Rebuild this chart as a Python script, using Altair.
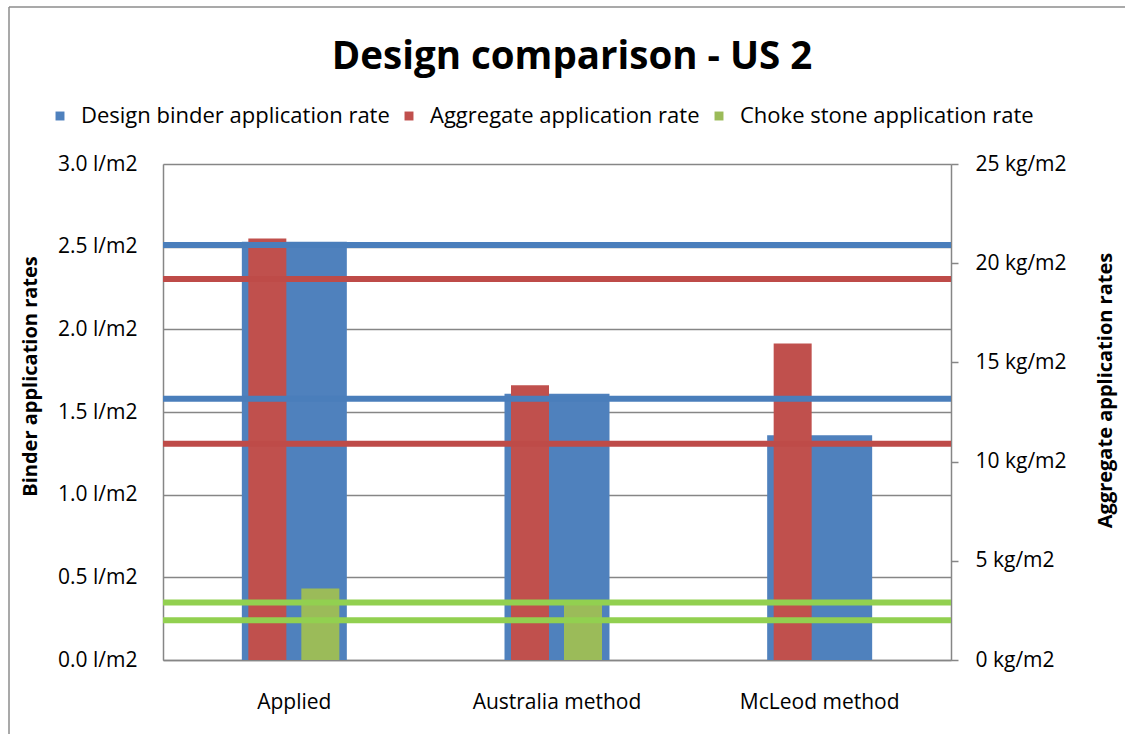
import altair as alt
import pandas as pd

# Categories along the x axis
categories = ["Applied", "Australia method", "McLeod method"]

# Bar series
binder_rate = [2.53, 1.61, 1.36]        # l/m2 (left axis)
aggregate_rate = [21.25, 13.85, 15.95]  # kg/m2 (right axis)
choke_rate = [3.6, 2.8, None]           # kg/m2 (right axis)

# Horizontal design limit lines
binder_limits = [2.51, 1.58]      # l/m2
aggregate_limits = [19.2, 10.9]   # kg/m2
choke_limits = [2.9, 2.0]         # kg/m2

series_names = [
    "Design binder application rate",
    "Aggregate application rate",
    "Choke stone application rate",
]
bar_colors = ["#4F81BD", "#C0504D", "#9BBB59"]

FONT = "Open Sans"
GRAY = "#868686"
LABEL_SIZE = 21


def bar_frame(values, name):
    return pd.DataFrame(
        {"category": categories, "series": name, "value": values}
    ).dropna()


binder_df = bar_frame(binder_rate, series_names[0])
aggregate_df = bar_frame(aggregate_rate, series_names[1])
choke_df = bar_frame(choke_rate, series_names[2])

x_enc = alt.X(
    "category:N",
    sort=categories,
    scale=alt.Scale(domain=categories, paddingInner=0, paddingOuter=0),
    axis=alt.Axis(
        title=None,
        labelAngle=0,
        labelFont=FONT,
        labelFontSize=LABEL_SIZE,
        labelColor="black",
        labelPadding=31,
        ticks=False,
        domainColor=GRAY,
        domainWidth=1.5,
    ),
)

color_enc = alt.Color(
    "series:N",
    scale=alt.Scale(domain=series_names, range=bar_colors),
    legend=alt.Legend(
        title=None,
        orient="none",
        direction="horizontal",
        legendX=-114,
        legendY=-59,
        symbolType="square",
        symbolSize=80,
        symbolStrokeWidth=0,
        labelFont=FONT,
        labelFontSize=22,
        labelColor="black",
        labelLimit=0,
        labelOffset=10,
        columnPadding=8,
    ),
)

left_scale = alt.Scale(domain=[0, 3], nice=False, zero=True)
right_scale = alt.Scale(domain=[0, 25], nice=False, zero=True)

left_axis = alt.Axis(
    values=[0, 0.5, 1.0, 1.5, 2.0, 2.5, 3.0],
    labelExpr="format(datum.value, '.1f') + ' l/m2'",
    labelFont=FONT,
    labelFontSize=LABEL_SIZE,
    labelColor="black",
    labelPadding=26,
    ticks=False,
    grid=True,
    gridColor=GRAY,
    gridWidth=1.5,
    domainColor=GRAY,
    domainWidth=1.5,
    title="Binder application rates",
    titleFont=FONT,
    titleFontSize=20,
    titleFontWeight="bold",
    titleColor="black",
    titleAngle=270,
    titleAlign="center",
    titleBaseline="middle",
    titleX=-133,
    titleY=212,
)

right_axis = alt.Axis(
    orient="right",
    values=[0, 5, 10, 15, 20, 25],
    labelExpr="datum.value + ' kg/m2'",
    labelFont=FONT,
    labelFontSize=LABEL_SIZE,
    labelColor="black",
    labelPadding=17,
    ticks=True,
    tickSize=7,
    tickColor=GRAY,
    tickWidth=1.5,
    grid=False,
    domainColor=GRAY,
    domainWidth=1.5,
    title="Aggregate application rates",
    titleFont=FONT,
    titleFontSize=20,
    titleFontWeight="bold",
    titleColor="black",
    titleAngle=270,
    titleAlign="center",
    titleBaseline="middle",
    titleX=154,
    titleY=226,
)

# Binder bars on the left (l/m2) axis
binder_bars = alt.Chart(binder_df).mark_bar(width=105).encode(
    x=x_enc,
    y=alt.Y("value:Q", scale=left_scale, axis=left_axis),
    color=color_enc,
)

# Aggregate and choke stone bars on the right (kg/m2) axis
aggregate_bars = alt.Chart(aggregate_df).mark_bar(width=38, xOffset=-27).encode(
    x=x_enc,
    y=alt.Y("value:Q", scale=right_scale, axis=right_axis),
    color=color_enc,
)
choke_bars = alt.Chart(choke_df).mark_bar(width=38, xOffset=26).encode(
    x=x_enc,
    y=alt.Y("value:Q", scale=right_scale, axis=right_axis),
    color=color_enc,
)
right_bars = alt.layer(aggregate_bars, choke_bars)

# Design limit lines drawn over the bars
binder_lines = alt.Chart(pd.DataFrame({"limit": binder_limits})).mark_rule(
    color="#4A7EBB", strokeWidth=6
).encode(y=alt.Y("limit:Q", scale=left_scale, axis=None))

aggregate_lines = alt.Chart(pd.DataFrame({"limit": aggregate_limits})).mark_rule(
    color="#BE4B48", strokeWidth=6
).encode(y=alt.Y("limit:Q", scale=right_scale, axis=None))
choke_lines = alt.Chart(pd.DataFrame({"limit": choke_limits})).mark_rule(
    color="#92D050", strokeWidth=6
).encode(y=alt.Y("limit:Q", scale=right_scale, axis=None))
right_lines = alt.layer(aggregate_lines, choke_lines)

# Chart-area frame (left and top edges)
frame_src = pd.DataFrame({"k": [0]})
frame_left = alt.Chart(frame_src).mark_rule(color="#8C8C8C", strokeWidth=1.5).encode(
    x=alt.value(-154), y=alt.value(-157), y2=alt.value(580)
)
frame_top = alt.Chart(frame_src).mark_rule(color="#8C8C8C", strokeWidth=1.5).encode(
    x=alt.value(-154), x2=alt.value(980), y=alt.value(-157)
)
frame = alt.layer(frame_left, frame_top)

chart = (
    alt.layer(binder_bars, right_bars, binder_lines, right_lines, frame)
    .resolve_scale(y="independent")
    .properties(
        width=788,
        height=496,
        padding={"left": 163, "top": 164, "right": 174, "bottom": 74},
        autosize=alt.AutoSizeParams(type="none"),
        title=alt.TitleParams(
            "Design comparison - US 2",
            font=FONT,
            fontSize=38.5,
            fontWeight="bold",
            color="black",
            anchor="middle",
            dx=15,
            offset=0,
            dy=71,
        ),
    )
    .configure_view(stroke=None)
    .configure(background="white")
)

chart.save("out.html", embed_options={"renderer": "svg", "actions": False})
